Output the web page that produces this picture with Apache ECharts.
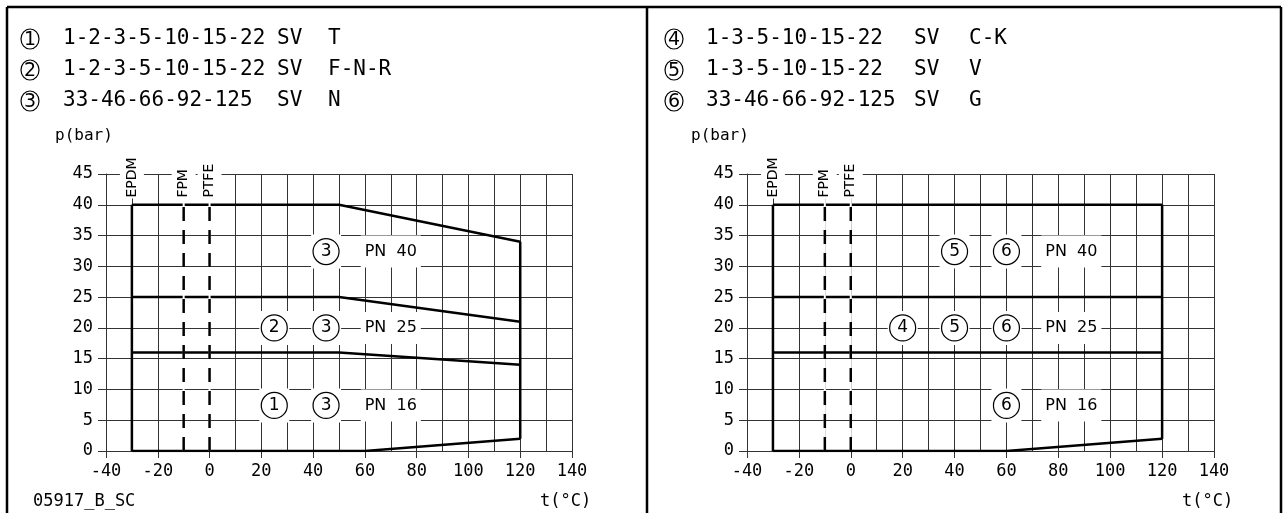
<!DOCTYPE html>
<html>
<head>
<meta charset="utf-8">
<script src="https://cdn.jsdelivr.net/npm/echarts@6/dist/echarts.min.js"></script>
<style>
  html, body { margin: 0; background: #fff; }
  #main { width: 1288px; height: 513px; }
</style>
</head>
<body>
<div id="main"></div>
<script>
// header tables: circle no, valve sizes, series, version
var leftNo = ['1', '2', '3'];
var leftSizes = ['1-2-3-5-10-15-22', '1-2-3-5-10-15-22', '33-46-66-92-125'];
var leftSeries = ['SV', 'SV', 'SV'];
var leftVersion = ['T', 'F-N-R', 'N'];
var rightNo = ['4', '5', '6'];
var rightSizes = ['1-3-5-10-15-22', '1-3-5-10-15-22', '33-46-66-92-125'];
var rightSeries = ['SV', 'SV', 'SV'];
var rightVersion = ['C-K', 'V', 'G'];

// seal material temperature limits
var materials = ['EPDM', 'FPM', 'PTFE'];
var materialTemp = [-30, -10, 0];
var materialTop = 42;

// pressure limits [t (°C), p (bar)]
var leftPN40 = [[-30, 40], [50, 40], [120, 34]];
var leftPN25 = [[-30, 25], [50, 25], [120, 21]];
var leftPN16 = [[-30, 16], [50, 16], [120, 14]];
var leftBase = [[-30, 0], [60, 0], [120, 2]];
var leftEdge = [[120, 2], [120, 34]];
var rightPN40 = [[-30, 40], [120, 40]];
var rightPN25 = [[-30, 25], [120, 25]];
var rightPN16 = [[-30, 16], [120, 16]];
var rightBase = [[-30, 0], [60, 0], [120, 2]];
var rightEdge = [[120, 2], [120, 40]];
var coldEdge = [[-30, 0], [-30, 40]];

// zone tags [t, p, text]
var leftCircles = [[45, 32.4, '3'], [25, 20, '2'], [45, 20, '3'], [25, 7.4, '1'], [45, 7.4, '3']];
var leftPN = [[70, 32.4, 'PN  40'], [70, 20, 'PN  25'], [70, 7.4, 'PN  16']];
var rightCircles = [[40, 32.4, '5'], [60, 32.4, '6'], [20, 20, '4'], [40, 20, '5'], [60, 20, '6'], [60, 7.4, '6']];
var rightPN = [[85, 32.4, 'PN  40'], [85, 20, 'PN  25'], [85, 7.4, 'PN  16']];

var black = '#000';
var gridColor = '#333';
var mono = 'DejaVu Sans Mono';
var sans = 'DejaVu Sans';

var chart = echarts.init(document.getElementById('main'));

function xAx(i) {
  return {
    gridIndex: i, type: 'value', min: -40, max: 140, interval: 20,
    axisLine: { show: true, onZero: false, lineStyle: { color: gridColor, width: 1 } },
    axisTick: { show: true, length: 7, lineStyle: { color: gridColor } },
    minorTick: { show: false, splitNumber: 2 },
    axisLabel: { margin: 12, color: black, fontFamily: mono, fontSize: 17, showMinLabel: true, showMaxLabel: true },
    splitLine: { show: true, lineStyle: { color: gridColor, width: 1 } },
    minorSplitLine: { show: true, lineStyle: { color: gridColor, width: 1 } }
  };
}
function yAx(i) {
  return {
    gridIndex: i, type: 'value', min: 0, max: 45, interval: 5,
    axisLine: { show: true, onZero: false, lineStyle: { color: gridColor, width: 1 } },
    axisTick: { show: true, length: 8, lineStyle: { color: gridColor } },
    axisLabel: { margin: 13, color: black, fontFamily: mono, fontSize: 17, showMinLabel: true, showMaxLabel: true },
    splitLine: { show: true, lineStyle: { color: gridColor, width: 1 } }
  };
}

function line(data, i, style, z) {
  return {
    type: 'line', xAxisIndex: i, yAxisIndex: i, data: data, symbol: 'none',
    silent: true, z: z || 3,
    lineStyle: Object.assign({ color: black, width: 2.5 }, style || {})
  };
}

// invisible anchor points that only carry a label
function tagSeries(data, i, label, z) {
  return {
    type: 'scatter', xAxisIndex: i, yAxisIndex: i, data: data, symbolSize: 0,
    z: z || 6, silent: true,
    itemStyle: { color: black, opacity: 1 },
    label: Object.assign({ show: true, position: 'inside', color: black, opacity: 1,
      textBorderWidth: 0, backgroundColor: '#fff' }, label)
  };
}
function circleTags(data, i) {
  return tagSeries(data, i, {
    padding: [4, 2],
    formatter: function (p) { return '{c|' + p.value[2] + '}'; },
    rich: { c: { width: 26, height: 26, lineHeight: 26, align: 'center', borderRadius: 13,
      borderColor: black, borderWidth: 1.2, fontSize: 17, fontFamily: sans, color: black } }
  });
}
function pnTags(data, i) {
  return tagSeries(data, i, {
    padding: [8, 4], fontSize: 16, fontFamily: sans,
    formatter: function (p) { return p.value[2]; }
  });
}
function materialTags(i) {
  var data = materials.map(function (m, k) { return [materialTemp[k], materialTop - 1, m]; });
  return tagSeries(data, i, {
    rotate: 90, align: 'left', verticalAlign: 'middle',
    padding: [5, 1], fontSize: 14, fontFamily: sans,
    formatter: function (p) { return p.value[2]; }
  }, 7);
}
function materialLines(i) {
  var out = [];
  materialTemp.slice(1).forEach(function (t) {
    var d = [[t, 0], [t, materialTop]];
    out.push(line(d, i, { color: '#fff', width: 2 }, 3));
    out.push(line(d, i, { type: [14, 9], width: 2.5 }, 4));
  });
  return out;
}

var series = [
  line(leftPN40, 0), line(leftPN25, 0), line(leftPN16, 0), line(leftBase, 0),
  line(leftEdge, 0), line(coldEdge, 0),
  line(rightPN40, 1), line(rightPN25, 1), line(rightPN16, 1), line(rightBase, 1),
  line(rightEdge, 1), line(coldEdge, 1)
].concat(materialLines(0), materialLines(1), [
  circleTags(leftCircles, 0), pnTags(leftPN, 0), materialTags(0),
  circleTags(rightCircles, 1), pnTags(rightPN, 1), materialTags(1)
]);

// header rows, frame and free texts
var graphic = [];
function frame(x1, y1, x2, y2) {
  graphic.push({ type: 'line', shape: { x1: x1, y1: y1, x2: x2, y2: y2 }, style: { stroke: black, lineWidth: 2.5 } });
}
frame(7, 7, 1281, 7);
frame(7, 7, 7, 513);
frame(1281, 7, 1281, 513);
frame(647, 7, 647, 513);

function txt(s, x, y, size, family, align) {
  graphic.push({ type: 'text', x: x, y: y, style: { text: s, fill: black, fontSize: size,
    fontFamily: family, textAlign: align || 'left', textVerticalAlign: 'middle' } });
}
function header(nos, sizes, ser, ver, cx, x1, x2, x3) {
  var rows = [39, 70, 101];
  nos.forEach(function (n, k) {
    graphic.push({ type: 'ellipse', shape: { cx: cx, cy: rows[k], rx: 9, ry: 10 },
      style: { fill: 'none', stroke: black, lineWidth: 1.2 } });
    txt(n, cx, rows[k] + 1, 19, sans, 'center');
    txt(sizes[k], x1, rows[k], 21, mono);
    txt(ser[k], x2, rows[k], 21, mono);
    txt(ver[k], x3, rows[k], 21, mono);
  });
}
header(leftNo, leftSizes, leftSeries, leftVersion, 30, 63, 277, 328);
header(rightNo, rightSizes, rightSeries, rightVersion, 674, 706, 914, 969);

txt('p(bar)', 55, 136, 16, mono);
txt('p(bar)', 691, 136, 16, mono);
txt('t(°C)', 540, 502, 17, mono);
txt('t(°C)', 1182, 502, 17, mono);
txt('05917_B_SC', 33, 502, 17, mono);

chart.setOption({
  animation: false,
  backgroundColor: '#fff',
  grid: [
    { left: 106, top: 174, width: 466, height: 277 },
    { left: 747, top: 174, width: 467, height: 277 }
  ],
  xAxis: [xAx(0), xAx(1)],
  yAxis: [yAx(0), yAx(1)],
  series: series,
  graphic: graphic
});
</script>
</body>
</html>
